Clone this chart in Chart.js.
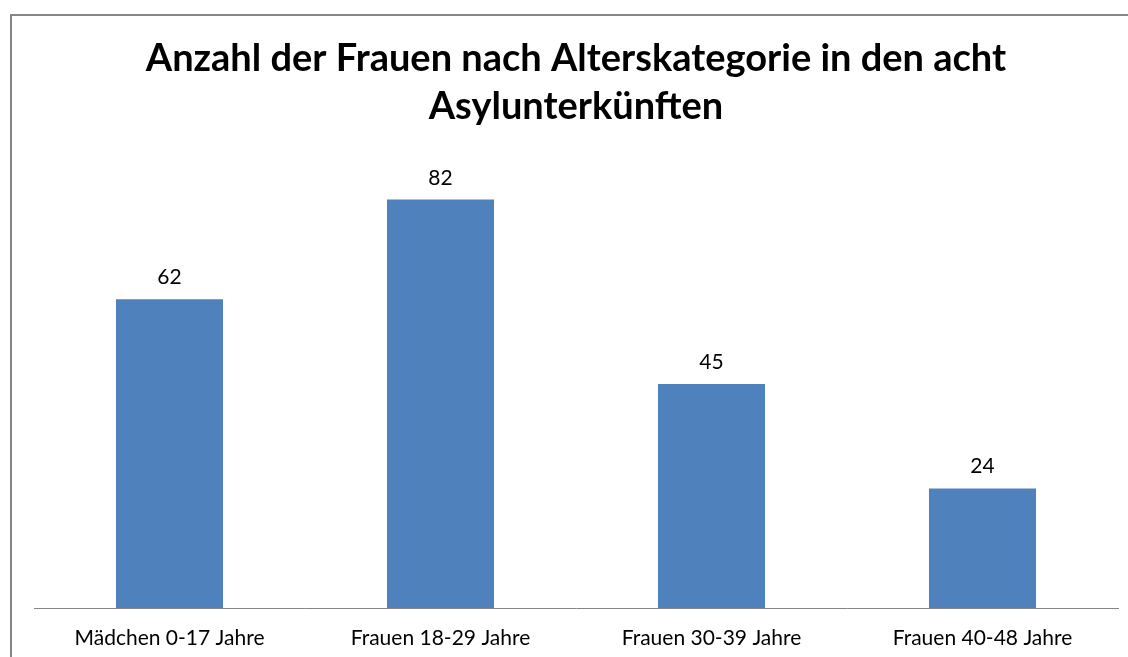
<!DOCTYPE html>
<html>
<head>
<meta charset="utf-8">
<script src="https://cdn.jsdelivr.net/npm/chart.js@4.4.1/dist/chart.umd.min.js"></script>
<style>
  html, body { margin: 0; padding: 0; width: 1128px; height: 657px; overflow: hidden; background: #fff; }
  #frame { position: absolute; left: 10px; top: 14px; width: 1130px; height: 660px; border: 2px solid #868686; background: #fff; }
  #wrap { position: absolute; left: 0; top: 0; width: 1130px; height: 660px; }
</style>
</head>
<body>
<div id="frame"><div id="wrap"><canvas id="c" width="1130" height="660"></canvas></div></div>
<script>
const titleLines = ["Anzahl der Frauen nach Alterskategorie in den acht", "Asylunterkünften"];
const categories = ["Mädchen 0-17 Jahre", "Frauen 18-29 Jahre", "Frauen 30-39 Jahre", "Frauen 40-48 Jahre"];
const values = [62, 82, 45, 24];
const yMin = 0;
const yMax = 90;

const FONT = "Lato, 'Open Sans', sans-serif";

const valueLabels = {
  id: 'valueLabels',
  afterDatasetsDraw(chart) {
    const ctx = chart.ctx;
    const meta = chart.getDatasetMeta(0);
    ctx.save();
    ctx.font = "21px " + FONT;
    ctx.fillStyle = "#000";
    ctx.textAlign = "center";
    ctx.textBaseline = "alphabetic";
    meta.data.forEach((bar, i) => {
      ctx.fillText(String(chart.data.datasets[0].data[i]), bar.x, bar.y - 15);
    });
    ctx.restore();
  }
};

new Chart(document.getElementById('c'), {
  type: 'bar',
  data: {
    labels: categories,
    datasets: [{
      data: values,
      backgroundColor: '#4F81BD',
      borderWidth: 0,
      categoryPercentage: 1.0,
      barPercentage: 0.395
    }]
  },
  options: {
    responsive: false,
    animation: false,
    layout: { padding: { left: 22, right: 24, top: 0, bottom: 0 } },
    plugins: {
      legend: { display: false },
      tooltip: { enabled: false },
      title: {
        display: true,
        text: titleLines,
        color: '#000',
        font: { family: FONT, size: 38, weight: 'bold', lineHeight: 1.26 },
        padding: { top: 19, bottom: 29 }
      }
    },
    scales: {
      x: {
        grid: { display: false, drawTicks: false },
        border: { display: true, color: '#868686', width: 1 },
        ticks: { color: '#000', font: { family: FONT, size: 21 }, padding: 18, maxRotation: 0 },
        afterFit(scale) { scale.height = 68; }
      },
      y: {
        display: false,
        min: yMin,
        max: yMax
      }
    }
  },
  plugins: [valueLabels]
});
</script>
</body>
</html>
